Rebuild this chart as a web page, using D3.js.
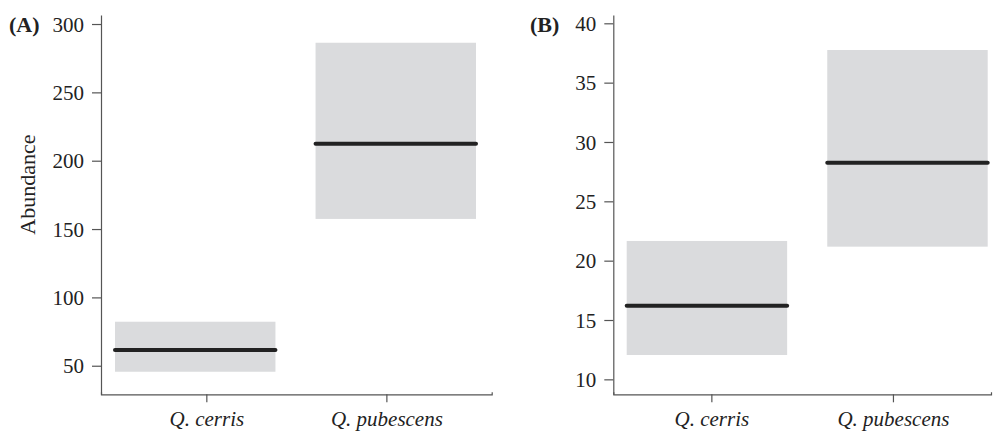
<!DOCTYPE html>
<html lang="en">
<head>
<meta charset="UTF-8">
<title>Abundance by oak species</title>
<script src="https://d3js.org/d3.v7.min.js"></script>
<style>
  body { margin: 0; background: #fff; }
  svg { display: block; font-family: "Liberation Serif", "Times New Roman", serif; }
  .axis path, .axis line { stroke: #555; stroke-width: 1.2; }
  .axis text { fill: #222; font-size: 21px; font-family: "Liberation Serif", "Times New Roman", serif; }
  .axis.x text { font-style: italic; }
</style>
</head>
<body>
<script>
// species on the x axis
const species = ["Q. cerris", "Q. pubescens"];

// panel A: abundance
const aLower  = [45.6, 157.4];
const aMedian = [61.5, 212.4];
const aUpper  = [82.2, 286.3];
const aTicks  = [50, 100, 150, 200, 250, 300];

// panel B
const bLower  = [12.05, 21.18];
const bMedian = [16.2, 28.26];
const bUpper  = [21.66, 37.75];
const bTicks  = [10, 15, 20, 25, 30, 35, 40];

const width = 995, height = 432;
const svg = d3.select("body").append("svg")
  .attr("width", width)
  .attr("height", height);

const plotTop = 15, plotBottom = 394.3;

// layout of each panel (pixel positions only)
const panels = [
  { tag: "(A)", tagX: 9, left: 101, right: 491.7, domain: [29.1, 306.6], ticks: aTicks,
    lower: aLower, median: aMedian, upper: aUpper,
    tickPad: 0.585, boxIn: [14, 15.7], ylabel: "Abundance" },
  { tag: "(B)", tagX: 530, left: 613.3, right: 991, domain: [8.74, 40.7], ticks: bTicks,
    lower: bLower, median: bMedian, upper: bUpper,
    tickPad: 0.54, boxIn: [13.4, 3.3], ylabel: null }
];

panels.forEach(p => {
  const g = svg.append("g");

  const y = d3.scaleLinear().domain(p.domain).range([plotBottom, plotTop]);
  const xTick = d3.scalePoint().domain(species)
    .range([p.left, p.right]).padding(p.tickPad);
  const xBox = d3.scaleBand().domain(species)
    .range([p.left + p.boxIn[0], p.right - p.boxIn[1]])
    .paddingInner(0.2).paddingOuter(0);

  const rows = species.map((s, i) => ({
    s: s, lo: p.lower[i], med: p.median[i], hi: p.upper[i]
  }));

  // grey interval boxes
  g.selectAll("rect.box").data(rows).enter().append("rect")
    .attr("class", "box")
    .attr("x", d => xBox(d.s))
    .attr("width", xBox.bandwidth())
    .attr("y", d => y(d.hi))
    .attr("height", d => y(d.lo) - y(d.hi))
    .attr("fill", "#dadbdd");

  // median bars
  g.selectAll("line.med").data(rows).enter().append("line")
    .attr("class", "med")
    .attr("x1", d => xBox(d.s))
    .attr("x2", d => xBox(d.s) + xBox.bandwidth())
    .attr("y1", d => y(d.med))
    .attr("y2", d => y(d.med))
    .attr("stroke", "#222")
    .attr("stroke-width", 4)
    .attr("stroke-linecap", "round");

  // y axis
  const yAxis = g.append("g")
    .attr("class", "axis y")
    .attr("transform", `translate(${p.left},0)`)
    .call(d3.axisLeft(y).tickValues(p.ticks).tickSize(9).tickPadding(8).tickSizeOuter(0));
  yAxis.selectAll("text").attr("dy", "0.34em");

  // x axis
  g.append("g")
    .attr("class", "axis x")
    .attr("transform", `translate(0,${plotBottom})`)
    .call(d3.axisBottom(xTick).tickSize(8).tickPadding(9).tickSizeOuter(-2));

  // panel tag
  g.append("text")
    .attr("x", p.tagX)
    .attr("y", 32)
    .attr("font-size", 22)
    .attr("font-weight", "bold")
    .attr("fill", "#222")
    .text(p.tag);

  if (p.ylabel) {
    g.append("text")
      .attr("transform", `translate(35,${(plotTop + plotBottom) / 2 - 20}) rotate(-90)`)
      .attr("text-anchor", "middle")
      .attr("font-size", 22)
      .attr("fill", "#222")
      .text(p.ylabel);
  }
});
</script>
</body>
</html>
